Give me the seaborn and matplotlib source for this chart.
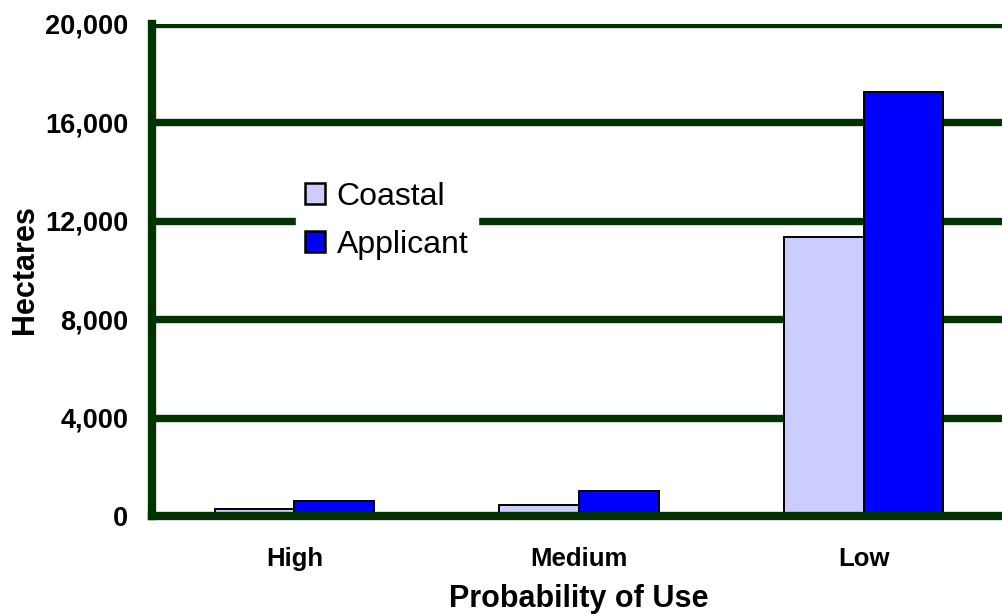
import pandas as pd
import numpy as np
import matplotlib
matplotlib.use('Agg')
import matplotlib.pyplot as plt
import seaborn as sns
from matplotlib.ticker import FixedLocator, FuncFormatter

sns.set_style('white')
plt.rcParams['font.family'] = ['Liberation Sans', 'DejaVu Sans']
plt.rcParams['text.color'] = 'black'
plt.rcParams['axes.labelcolor'] = 'black'
plt.rcParams['xtick.labelcolor'] = 'black'
plt.rcParams['ytick.labelcolor'] = 'black'

# data
categories = ['High', 'Medium', 'Low']
series_names = ['Coastal', 'Applicant']
coastal = [275, 450, 11350]
applicant = [600, 1000, 17250]
y_ticks = [0, 4000, 8000, 12000, 16000, 20000]

df = pd.DataFrame({
    'category': categories * 2,
    'series': [series_names[0]] * 3 + [series_names[1]] * 3,
    'hectares': coastal + applicant,
})

green = '#003300'
palette = {'Coastal': '#CCCCFF', 'Applicant': '#0000FF'}

fig = plt.figure(figsize=(10.02, 6.16), dpi=100)
ax = fig.add_axes([152 / 1002, 100 / 616, 854 / 1002, 492 / 616])

sns.barplot(data=df, x='category', y='hectares', hue='series', order=categories,
            hue_order=series_names, palette=palette, width=0.56, gap=0,
            edgecolor='black', linewidth=1.4, saturation=1, ax=ax, zorder=3)

ax.set_xlim(-0.5, 2.5)
ax.set_ylim(0, 20000)

# horizontal grid lines
ax.yaxis.set_major_locator(FixedLocator(y_ticks))
ax.yaxis.set_major_formatter(FuncFormatter(lambda v, p: f'{int(v):,}'))
ax.grid(axis='y', color=green, linewidth=5.3, zorder=0)
ax.grid(axis='x', visible=False)
ax.set_axisbelow(True)

for side in ['top', 'right']:
    ax.spines[side].set_visible(False)
for side in ['left', 'bottom']:
    ax.spines[side].set_color(green)
    ax.spines[side].set_linewidth(6)
    ax.spines[side].set_zorder(4)
ax.spines['bottom'].set_zorder(5)

ax.tick_params(axis='y', which='major', length=5, width=5.3, color=green,
               pad=12, labelsize=19.5)
for t in ax.get_yticklabels():
    t.set_fontweight('bold')

ax.set_xticks(range(len(categories)))
ax.set_xticklabels(categories, fontsize=18.5, fontweight='bold')
ax.tick_params(axis='x', which='major', length=0, pad=22)
ax.xaxis.set_minor_locator(FixedLocator([-0.5, 0.5, 1.5, 2.5]))
ax.tick_params(axis='x', which='minor', length=5, width=5.3, color=green)

ax.set_xlabel('Probability of Use', fontsize=22, fontweight='bold', labelpad=10)
ax.set_ylabel('Hectares', fontsize=22, fontweight='bold', labelpad=4)

leg = ax.legend(loc='center', bbox_to_anchor=(0.275, 0.60), fontsize=23,
                frameon=True, fancybox=False, edgecolor='white', framealpha=1,
                handlelength=0.62, handleheight=0.62, handletextpad=0.35,
                labelspacing=0.55, borderpad=0.3, borderaxespad=0)
leg.set_zorder(6)
for h in leg.legend_handles:
    h.set_edgecolor('black')
    h.set_linewidth(1.8)

fig.savefig('out.png', dpi=100)
